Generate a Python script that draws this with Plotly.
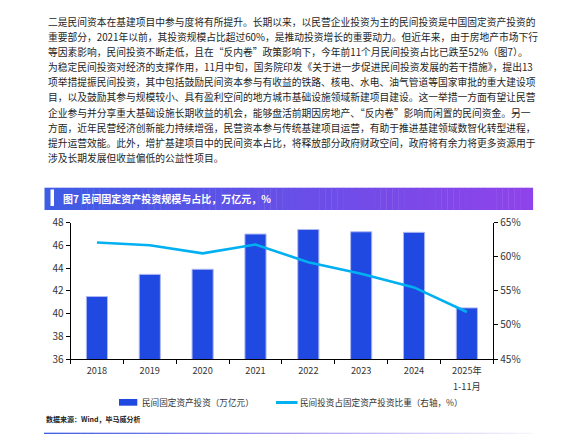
import plotly.graph_objects as go

# data
years = ["2018", "2019", "2020", "2021", "2022", "2023", "2024", "2025年1-11月"]
tick_labels = ["2018", "2019", "2020", "2021", "2022", "2023", "2024", "2025年"]
last_note = "1-11月"
invest = [41.5, 43.45, 43.9, 47.0, 47.4, 47.2, 47.15, 40.5]       # 万亿元
share = [0.621, 0.617, 0.605, 0.618, 0.592, 0.575, 0.555, 0.519]   # 右轴

paragraph = [
    "二是民间资本在基建项目中参与度将有所提升。长期以来，以民营企业投资为主的民间投资是中国固定资产投资的",
    "重要部分，2021年以前，其投资规模占比超过60%，是推动投资增长的重要动力。但近年来，由于房地产市场下行",
    "等因素影响，民间投资不断走低，且在“反内卷”政策影响下，今年前11个月民间投资占比已跌至52%（图7）。",
    "为稳定民间投资对经济的支撑作用，11月中旬，国务院印发《关于进一步促进民间投资发展的若干措施》，提出13",
    "项举措提振民间投资，其中包括鼓励民间资本参与有收益的铁路、核电、水电、油气管道等国家审批的重大建设项",
    "目，以及鼓励其参与规模较小、具有盈利空间的地方城市基础设施领域新建项目建设。这一举措一方面有望让民营",
    "企业参与并分享重大基础设施长期收益的机会，能够盘活前期因房地产、“反内卷”影响而闲置的民间资金。另一",
    "方面，近年民营经济创新能力持续增强，民营资本参与传统基建项目运营，有助于推进基建领域数智化转型进程，",
    "提升运营效能。此外，增扩基建项目中的民间资本占比，将释放部分政府财政空间，政府将有余力将更多资源用于",
    "涉及长期发展但收益偏低的公益性项目。",
]
title_text = "图7 民间固定资产投资规模与占比，万亿元，%"
legend_bar = "民间固定资产投资（万亿元）"
legend_line = "民间投资占固定资产投资比重（右轴，%）"
source_text = "数据来源：Wind，毕马威分析"

# the page body has an 8px margin, so the figure is drawn 8px in from the corner
PAD = 8
W, H = 580 - PAD, 445 - PAD
FONT = "Noto Sans CJK SC"
BAR_COLOR = "#2049E1"
LINE_COLOR = "#00B0F0"


def px(x):
    return (x - PAD) / W


def py(y):
    return 1 - (y - PAD) / H


def mix(c1, c2, t):
    a = [int(c1[i:i + 2], 16) for i in (1, 3, 5)]
    b = [int(c2[i:i + 2], 16) for i in (1, 3, 5)]
    return "rgb(%d,%d,%d)" % tuple(round(a[k] + (b[k] - a[k]) * t) for k in range(3))


fig = go.Figure()
fig.add_trace(go.Bar(x=years, y=invest, width=0.4, marker_color=BAR_COLOR,
                     marker_line=dict(color="#AEB8F2", width=1), name=legend_bar))
fig.add_trace(go.Scatter(x=years, y=share, yaxis="y2", mode="lines",
                         line=dict(color=LINE_COLOR, width=2.6), name=legend_line))

shapes = []
annotations = []

# body text
for i, line in enumerate(paragraph):
    annotations.append(dict(x=px(46), y=py(22.3 + 15.04 * i), xref="paper", yref="paper",
                            text=line, showarrow=False, xanchor="left", yanchor="middle",
                            font=dict(family=FONT, size=9.75, color="#1e1e1e")))

# title bar with gradient
n = 80
x0, x1 = 44.5, 532.7
for k in range(n):
    a = x0 + (x1 - x0) * k / n
    b = x0 + (x1 - x0) * (k + 1) / n + 0.4
    shapes.append(dict(type="rect", xref="paper", yref="paper", x0=px(a), x1=px(b),
                       y0=py(210), y1=py(187.7), line_width=0,
                       fillcolor=mix("#3E5CE4", "#8F43EA", k / (n - 1))))
shapes.append(dict(type="rect", xref="paper", yref="paper", x0=px(50.5), x1=px(54),
                   y0=py(206), y1=py(189.5), line_width=0, fillcolor="white"))
annotations.append(dict(x=px(61), y=py(198.5), xref="paper", yref="paper",
                        text="<b>" + title_text + "</b>", showarrow=False,
                        xanchor="left", yanchor="middle",
                        font=dict(family=FONT, size=10, color="white")))

# second line under the last category label
annotations.append(dict(x=years[-1], y=py(386), xref="x", yref="paper", text=last_note,
                        showarrow=False, xanchor="center", yanchor="middle",
                        font=dict(family=FONT, size=9.2, color="#333333")))

# legend
shapes.append(dict(type="rect", xref="paper", yref="paper", x0=px(119), x1=px(137.3),
                   y0=py(405.7), y1=py(399), line_width=0, fillcolor=BAR_COLOR))
annotations.append(dict(x=px(139.5), y=py(402.3), xref="paper", yref="paper", text=legend_bar,
                        showarrow=False, xanchor="left", yanchor="middle",
                        font=dict(family=FONT, size=8.6, color="#333333")))
shapes.append(dict(type="line", xref="paper", yref="paper", x0=px(276), x1=px(297.5),
                   y0=py(402.5), y1=py(402.5), line=dict(color=LINE_COLOR, width=3)))
annotations.append(dict(x=px(297.5), y=py(402.3), xref="paper", yref="paper", text=legend_line,
                        showarrow=False, xanchor="left", yanchor="middle",
                        font=dict(family=FONT, size=8.6, color="#333333")))

# source + bottom rule
annotations.append(dict(x=px(44), y=py(419.3), xref="paper", yref="paper",
                        text="<b>" + source_text + "</b>", showarrow=False,
                        xanchor="left", yanchor="middle",
                        font=dict(family=FONT, size=7, color="#222222")))
m = 60
r0, r1 = 44, 532
for k in range(m):
    t = k / (m - 1)
    col = mix("#2B4EE0", "#9F8DF1", t * 2) if t < 0.5 else mix("#9F8DF1", "#F6F3FD", (t - 0.5) * 2)
    a = r0 + (r1 - r0) * k / m
    b = r0 + (r1 - r0) * (k + 1) / m + 0.3
    shapes.append(dict(type="line", xref="paper", yref="paper", x0=px(a), x1=px(b),
                       y0=py(433.3), y1=py(433.3), line=dict(color=col, width=1.2)))

axis_font = dict(family=FONT, size=10, color="#333333")
fig.update_layout(
    template="none",
    width=W, height=H,
    margin=dict(l=0, r=0, t=0, b=0),
    paper_bgcolor="white", plot_bgcolor="white",
    showlegend=False,
    xaxis=dict(domain=[px(70.5), px(493.3)], type="category", tickvals=years, ticktext=tick_labels,
               tickson="boundaries", ticks="outside", ticklen=4, tickcolor="black",
               showline=True, linecolor="black", linewidth=1, showgrid=False, zeroline=False,
               ticklabelstandoff=3,
               tickfont=dict(family=FONT, size=9.2, color="#333333"), automargin=False),
    yaxis=dict(domain=[py(359), py(222.7)], range=[36, 48], dtick=2, ticks="outside", ticklen=4,
               tickcolor="black", showline=True, linecolor="black", linewidth=1,
               showgrid=False, zeroline=False, tickfont=axis_font, automargin=False),
    yaxis2=dict(overlaying="y", side="right", anchor="x", range=[0.45, 0.65], dtick=0.05,
                tickformat=".0%", ticks="outside", ticklen=4, tickcolor="black", showline=True,
                linecolor="black", linewidth=1, showgrid=False, zeroline=False,
                tickfont=axis_font, automargin=False),
    shapes=shapes,
    annotations=annotations,
)

fig.write_html("out.html")
